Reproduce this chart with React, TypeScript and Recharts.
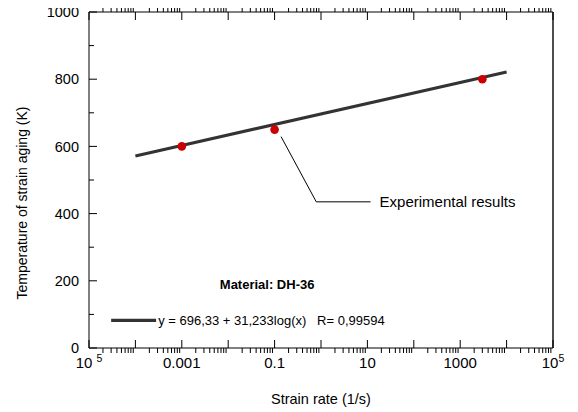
import { ComposedChart, Line, Scatter, XAxis, YAxis, ReferenceDot } from 'recharts';

const FONT = '"Liberation Sans", Arial, Helvetica, sans-serif';

// x axis: log decades 1e-5 .. 1e5, minor ticks 2..9 per decade
const DECADES = [-5, -4, -3, -2, -1, 0, 1, 2, 3, 4, 5];
const MINOR_STEPS = [2, 3, 4, 5, 6, 7, 8, 9];
const X_LABELS: Record<number, { base: string; sup?: string; gap?: boolean }> = {
  [-5]: { base: '10', sup: '5', gap: true },
  [-3]: { base: '0.001' },
  [-1]: { base: '0.1' },
  [1]: { base: '10' },
  [3]: { base: '1000' },
  [5]: { base: '10', sup: '5' },
};

const Y_TICKS = [0, 100, 200, 300, 400, 500, 600, 700, 800, 900, 1000];
const Y_LABELLED = [0, 200, 400, 600, 800, 1000];

// fitted line y = 696,33 + 31,233 log(x), drawn between its end points
const fitLine = [
  { rate: 1e-4, temp: 571.4 },
  { rate: 1e4, temp: 821.3 },
];

const experiments = [
  { rate: 0.001, temp: 600 },
  { rate: 0.1, temp: 650 },
  { rate: 3000, temp: 800 },
];

// leader from the 0.1 point to the "Experimental results" note
const leader = [
  { rate: 0.138, temp: 629 },
  { rate: 0.79, temp: 435 },
  { rate: 11.7, temp: 435 },
];

const xTicks = DECADES.flatMap((e) =>
  e < 5 ? [10 ** e, ...MINOR_STEPS.map((m) => m * 10 ** e)] : [10 ** e]
);

const isDecade = (v: number) => Math.abs(Math.log10(v) - Math.round(Math.log10(v))) < 1e-6;

function BottomTick(props: any) {
  const { x, y, payload } = props;
  const v = payload.value as number;
  const major = isDecade(v);
  const label = major ? X_LABELS[Math.round(Math.log10(v))] : undefined;
  return (
    <g>
      <line x1={x} x2={x} y1={y} y2={major ? y - 8 : y + 5} stroke="#000" strokeWidth={1} />
      {label && (
        <text x={x} y={y + 20} textAnchor="middle" fontSize={15} fontFamily={FONT} fill="#000">
          {label.base}
          {label.sup && (
            <tspan dx={label.gap ? 4 : 0} dy={-6} fontSize={10.5}>
              {label.sup}
            </tspan>
          )}
        </text>
      )}
    </g>
  );
}

function TopTick(props: any) {
  const { x, y, payload } = props;
  const major = isDecade(payload.value);
  return <line x1={x} x2={x} y1={y} y2={major ? y + 8 : y - 4} stroke="#000" strokeWidth={1} />;
}

function LeftTick(props: any) {
  const { x, y, payload } = props;
  const v = payload.value as number;
  const major = Y_LABELLED.includes(v);
  return (
    <g>
      <line x1={x} x2={x + (major ? 8 : 5)} y1={y} y2={y} stroke="#000" strokeWidth={1} />
      {major && (
        <text x={x - 10} y={y} dy="0.36em" textAnchor="end" fontSize={14.5} fontFamily={FONT} fill="#000">
          {v}
        </text>
      )}
    </g>
  );
}

function RightTick(props: any) {
  const { x, y } = props;
  return <line x1={x} x2={x - 6} y1={y} y2={y} stroke="#000" strokeWidth={1} />;
}

const dotShape = (p: any) => <circle cx={p.cx} cy={p.cy} r={4.3} fill="#cc0000" />;

export default function App() {
  return (
    <div style={{ marginLeft: -8, marginTop: -8, background: '#fff', width: 578, height: 412 }}>
      <ComposedChart width={578} height={412} margin={{ top: 0, right: 0, bottom: 0, left: 0 }}>
        <XAxis
          dataKey="rate"
          type="number"
          scale="log"
          domain={[1e-5, 1e5]}
          allowDataOverflow
          ticks={xTicks}
          interval={0}
          height={64}
          tickSize={0}
          tickMargin={0}
          axisLine={{ stroke: '#000', strokeWidth: 1 }}
          tickLine={false}
          tick={<BottomTick />}
          label={{
            content: (p: any) => (
              <text
                x={p.viewBox.x + p.viewBox.width / 2}
                y={p.viewBox.y + 56}
                textAnchor="middle"
                fontSize={14.5}
                fontFamily={FONT}
                fill="#000"
              >
                Strain rate (1/s)
              </text>
            ),
          }}
        />
        <XAxis
          xAxisId="top"
          orientation="top"
          dataKey="rate"
          type="number"
          scale="log"
          domain={[1e-5, 1e5]}
          allowDataOverflow
          ticks={xTicks}
          interval={0}
          height={12}
          tickSize={0}
          tickMargin={0}
          axisLine={{ stroke: '#000', strokeWidth: 1 }}
          tickLine={false}
          tick={<TopTick />}
        />
        <YAxis
          type="number"
          domain={[0, 1000]}
          ticks={Y_TICKS}
          interval={0}
          width={89}
          tickSize={0}
          tickMargin={0}
          axisLine={{ stroke: '#000', strokeWidth: 1 }}
          tickLine={false}
          tick={<LeftTick />}
          label={{
            content: (p: any) => {
              const cx = p.viewBox.x + 27;
              const cy = p.viewBox.y + p.viewBox.height / 2 + 23;
              return (
                <text
                  x={cx}
                  y={cy}
                  transform={`rotate(-90, ${cx}, ${cy})`}
                  textAnchor="middle"
                  fontSize={14}
                  fontFamily={FONT}
                  fill="#000"
                >
                  Temperature of strain aging (K)
                </text>
              );
            },
          }}
        />
        <YAxis
          yAxisId="right"
          orientation="right"
          type="number"
          domain={[0, 1000]}
          ticks={Y_TICKS}
          interval={0}
          width={25}
          tickSize={0}
          tickMargin={0}
          axisLine={{ stroke: '#222', strokeWidth: 1.6 }}
          tickLine={false}
          tick={<RightTick />}
        />

        <Line
          data={leader}
          dataKey="temp"
          stroke="#000"
          strokeWidth={1}
          dot={false}
          activeDot={false}
          type="linear"
          isAnimationActive={false}
        />
        <Line
          data={fitLine}
          dataKey="temp"
          stroke="#333"
          strokeWidth={3.2}
          dot={false}
          activeDot={false}
          type="linear"
          isAnimationActive={false}
        />
        <Scatter data={experiments} dataKey="temp" shape={dotShape} isAnimationActive={false} />

        <ReferenceDot
          x={11.7}
          y={435}
          r={0}
          fill="none"
          stroke="none"
          label={{
            content: (p: any) => (
              <text x={p.viewBox.x + 9} y={p.viewBox.y} dy="0.36em" fontSize={15} fontFamily={FONT} fill="#000">
                Experimental results
              </text>
            ),
          }}
        />
        <ReferenceDot
          x={0.069}
          y={190}
          r={0}
          fill="none"
          stroke="none"
          label={{
            content: (p: any) => (
              <text
                x={p.viewBox.x}
                y={p.viewBox.y}
                dy="0.36em"
                textAnchor="middle"
                fontSize={13}
                fontWeight="bold"
                fontFamily={FONT}
                fill="#000"
              >
                Material: DH-36
              </text>
            ),
          }}
        />
        <ReferenceDot
          x={3e-5}
          y={82}
          r={0}
          fill="none"
          stroke="none"
          label={{
            content: (p: any) => (
              <g>
                <line
                  x1={p.viewBox.x}
                  x2={p.viewBox.x + 45}
                  y1={p.viewBox.y}
                  y2={p.viewBox.y}
                  stroke="#333"
                  strokeWidth={3.2}
                />
                <text
                  x={p.viewBox.x + 47}
                  y={p.viewBox.y}
                  dy="0.36em"
                  fontSize={13}
                  fontFamily={FONT}
                  fill="#000"
                  style={{ whiteSpace: 'pre' }}
                >
                  {'y = 696,33 + 31,233log(x)   R= 0,99594'}
                </text>
              </g>
            ),
          }}
        />
      </ComposedChart>
    </div>
  );
}
